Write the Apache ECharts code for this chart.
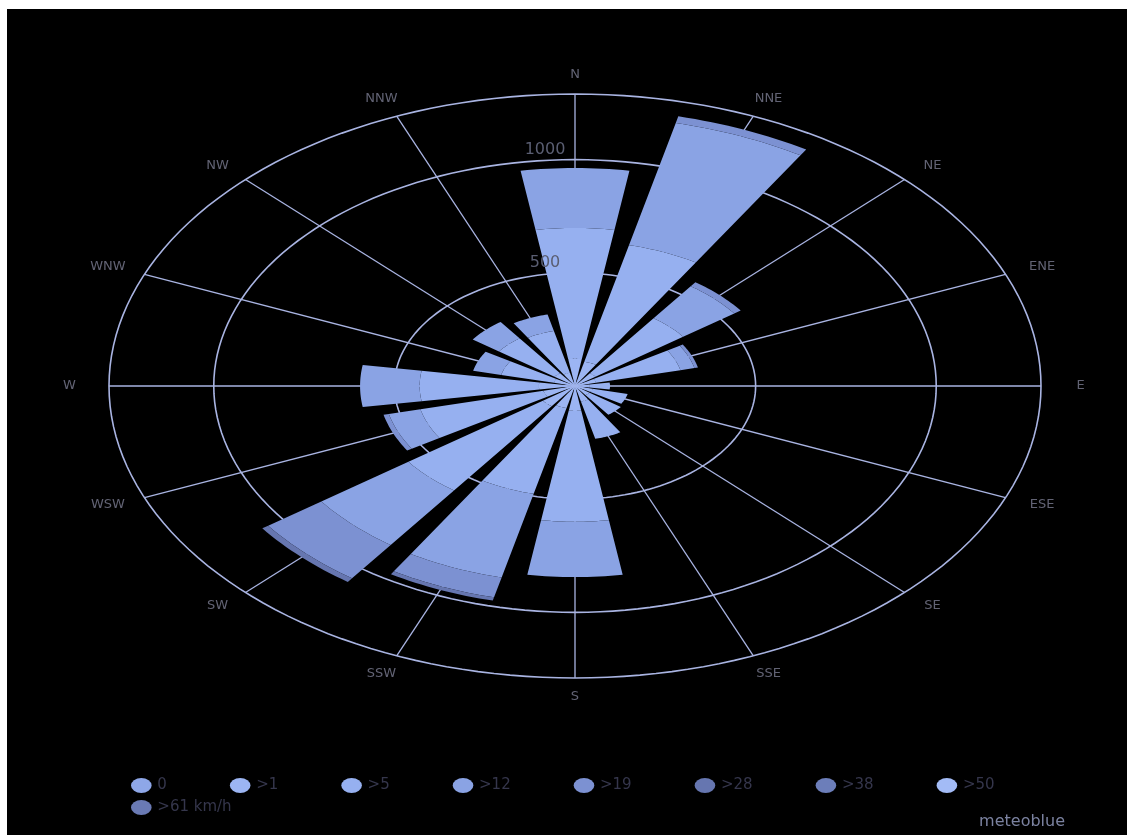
<!DOCTYPE html>
<html>
<head>
<meta charset="utf-8">
<script src="https://cdn.jsdelivr.net/npm/echarts@6/dist/echarts.min.js"></script>
<style>
  html, body { margin: 0; background: #fff; }
  #main { position: absolute; left: 7px; top: 9px; width: 1120px; height: 826px; }
</style>
</head>
<body>
<div id="main"></div>
<script>
// wind directions, clockwise from north
const directions = ['N', 'NNE', 'NE', 'ENE', 'E', 'ESE', 'SE', 'SSE', 'S', 'SSW', 'SW', 'WSW', 'W', 'WNW', 'NW', 'NNW']
const speedBins = ['0', '>1', '>5', '>12', '>19', '>28', '>38', '>50', '>61 km/h']

// hours per direction for each speed bin (stacked outward)
const calm    = [0, 0, 0, 0, 0, 0, 0, 0, 0, 0, 0, 0, 0, 0, 0, 0]
const over1   = [120, 110, 70, 60, 40, 50, 50, 70, 110, 100, 110, 90, 100, 60, 70, 60]
const over5   = [578, 530, 300, 240, 57, 100, 107, 170, 490, 390, 460, 350, 330, 150, 190, 190]
const over12  = [265, 555, 175, 40, 0, 0, 0, 0, 244, 380, 298, 90, 165, 80, 90, 75]
const over19  = [0, 30, 22, 10, 0, 0, 0, 0, 0, 90, 182, 15, 0, 0, 0, 0]
const over28  = [0, 0, 0, 0, 0, 0, 0, 0, 0, 15, 20, 0, 0, 0, 0, 0]
const over38  = [0, 0, 0, 0, 0, 0, 0, 0, 0, 0, 0, 0, 0, 0, 0, 0]
const over50  = [0, 0, 0, 0, 0, 0, 0, 0, 0, 0, 0, 0, 0, 0, 0, 0]
const over61  = [0, 0, 0, 0, 0, 0, 0, 0, 0, 0, 0, 0, 0, 0, 0, 0]

const radiusTicks = [500, 1000]
const radiusMax = 1290

const binValues = [calm, over1, over5, over12, over19, over28, over38, over50, over61]
const binColors = ['#8ea7e8', '#9cb5f3', '#96b0f0', '#8aa3e4', '#7c91d2', '#6676b0', '#6c7eba', '#a3bbf6', '#6a7ab4']
const gridColor = '#a9b4e2'
const STEP = 22.5 * Math.PI / 180
const HALF = 9 * Math.PI / 180

function polar (api, r, t) {
  return api.coord([r * Math.sin(t), r * Math.cos(t)])
}

function renderRing (params, api) {
  const r = api.value(0)
  const pts = []
  for (let i = 0; i <= 180; i++) {
    pts.push(polar(api, r, i / 180 * 2 * Math.PI))
  }
  return { type: 'polyline', shape: { points: pts }, style: { stroke: gridColor, lineWidth: 1.6, fill: null } }
}

function renderSpoke (params, api) {
  const i = api.value(0)
  const t = i * STEP
  const c = api.coord([0, 0])
  const p = polar(api, radiusMax, t)
  return {
    type: 'group',
    children: [
      { type: 'line', shape: { x1: c[0], y1: c[1], x2: p[0], y2: p[1] }, style: { stroke: gridColor, lineWidth: 1.3 } },
      {
        type: 'text',
        x: c[0] + (p[0] - c[0]) * 1.085,
        y: c[1] + (p[1] - c[1]) * 1.065,
        style: { text: directions[i], fill: '#626374', fontSize: 13, fontFamily: 'DejaVu Sans', align: 'center', verticalAlign: 'middle' }
      }
    ]
  }
}

function renderRingLabel (params, api) {
  const r = api.value(0)
  const p = api.coord([0, r])
  return {
    type: 'text',
    x: p[0] - 30,
    y: p[1] - 2,
    style: { text: String(r), fill: '#5a5e72', fontSize: 16, fontFamily: 'DejaVu Sans', align: 'center', verticalAlign: 'bottom' }
  }
}

function renderSector (params, api) {
  const t0 = api.value(0) * STEP
  const r0 = api.value(1)
  const r1 = api.value(2)
  const pts = []
  const n = 16
  for (let k = 0; k <= n; k++) pts.push(polar(api, r1, t0 - HALF + 2 * HALF * k / n))
  for (let k = n; k >= 0; k--) pts.push(polar(api, r0, t0 - HALF + 2 * HALF * k / n))
  return { type: 'polygon', shape: { points: pts }, style: { fill: api.visual('color') } }
}

// stack bins outward
const base = directions.map(() => 0)
const barSeries = speedBins.map((name, b) => {
  const data = []
  binValues[b].forEach((v, i) => {
    if (v > 0) data.push([i, base[i], base[i] + v])
    base[i] += v
  })
  return {
    name: name,
    type: 'custom',
    coordinateSystem: 'cartesian2d',
    renderItem: renderSector,
    itemStyle: { color: binColors[b] },
    silent: true,
    z: 3,
    data: data
  }
})

const ellipseIcon = 'path://M0,8 A11,8 0 1,0 22,8 A11,8 0 1,0 0,8 Z'
const legendText = { color: '#35364c', fontSize: 15, fontFamily: 'DejaVu Sans' }

const option = {
  backgroundColor: '#000',
  animation: false,
  grid: { left: 102, right: 86, top: 85, bottom: 157 },
  xAxis: { type: 'value', min: -radiusMax, max: radiusMax, show: false },
  yAxis: { type: 'value', min: -radiusMax, max: radiusMax, show: false },
  legend: [
    {
      data: speedBins.slice(0, 8),
      left: 119,
      top: 764,
      itemWidth: 22,
      itemHeight: 15,
      itemGap: 63,
      icon: ellipseIcon,
      selectedMode: false,
      textStyle: legendText
    },
    {
      data: speedBins.slice(8),
      left: 119,
      top: 786,
      itemWidth: 22,
      itemHeight: 15,
      icon: ellipseIcon,
      selectedMode: false,
      textStyle: legendText
    }
  ],
  graphic: [
    {
      type: 'text',
      right: 62,
      top: 805,
      style: { text: 'meteoblue', fill: '#7b82a0', fontSize: 16, fontFamily: 'DejaVu Sans' }
    }
  ],
  series: [
    {
      type: 'custom',
      coordinateSystem: 'cartesian2d',
      renderItem: renderRing,
      silent: true,
      z: 1,
      data: radiusTicks.concat([radiusMax]).map(r => [r])
    },
    {
      type: 'custom',
      coordinateSystem: 'cartesian2d',
      renderItem: renderSpoke,
      silent: true,
      z: 1,
      data: directions.map((d, i) => [i])
    }
  ].concat(barSeries, [
    {
      type: 'custom',
      coordinateSystem: 'cartesian2d',
      renderItem: renderRingLabel,
      silent: true,
      z: 5,
      data: radiusTicks.map(r => [r])
    }
  ])
}

const chart = echarts.init(document.getElementById('main'))
chart.setOption(option)
window.addEventListener('resize', () => chart.resize())
</script>
</body>
</html>
